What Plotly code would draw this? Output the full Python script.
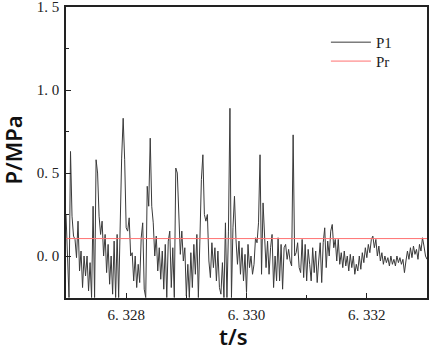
import plotly.graph_objects as go

# sampling of the P1 signal
t_start = 6.327
t_step = 0.000025

p1_values = [
    0.25, -0.05, -0.25, 0.63, 0.24, 0.12, 0.10, -0.01, 0.21, -0.09,
    0.03, -0.19, 0.00, -0.12, 0.00, -0.21, -0.04, -0.25, 0.30, -0.25,
    0.58, 0.50, 0.24, 0.13, 0.21, 0.00, 0.13, -0.10, 0.07, -0.17,
    0.00, -0.23, 0.09, -0.25, 0.13, -0.25, 0.28, 0.59, 0.83, 0.58,
    0.17, 0.15, 0.23, 0.00, 0.02, -0.15, 0.00, -0.19, -0.05, -0.16,
    0.11, 0.20, -0.20, -0.25, 0.42, 0.30, 0.71, 0.30, 0.20, 0.00,
    0.12, -0.09, 0.05, -0.14, 0.03, -0.20, 0.07, -0.25, 0.09, 0.15,
    -0.19, 0.05, -0.25, 0.53, 0.50, 0.30, 0.01, 0.15, -0.03, 0.05,
    -0.24, -0.05, -0.25, 0.02, -0.19, 0.07, -0.11, 0.13, -0.25, 0.09,
    0.46, 0.61, 0.25, 0.21, 0.25, -0.03, -0.13, 0.08, -0.07, 0.05,
    -0.15, 0.03, -0.19, -0.23, -0.04, -0.25, 0.20, -0.25, 0.15, 0.89,
    -0.25, 0.17, 0.36, 0.10, -0.05, 0.09, -0.11, 0.05, -0.15, 0.01,
    -0.22, 0.07, -0.07, 0.00, -0.11, -0.05, 0.11, 0.08, 0.20, 0.61,
    -0.11, 0.32, 0.07, -0.07, 0.09, -0.11, 0.05, 0.13, -0.19, 0.00,
    -0.15, 0.11, -0.15, 0.07, -0.20, 0.05, 0.07, -0.02, 0.04, -0.03,
    -0.06, 0.73, 0.00, 0.02, 0.08, -0.07, -0.10, 0.10, -0.13, 0.07,
    -0.15, 0.04, -0.05, -0.15, 0.05, -0.10, 0.03, -0.16, -0.03, 0.08,
    -0.16, 0.08, 0.17, -0.07, 0.09, 0.00, 0.15, 0.19, 0.05, 0.10,
    -0.03, 0.10, -0.05, 0.02, -0.07, 0.03, -0.06, 0.00, -0.09, 0.01,
    -0.07, 0.00, -0.11, -0.05, -0.09, 0.00, -0.08, 0.02, -0.04, 0.05,
    -0.01, 0.07, 0.02, 0.10, 0.12, 0.05, 0.10, 0.00, 0.06, -0.03,
    0.02, -0.05, 0.00, -0.04, -0.01, -0.06, 0.00, -0.05, -0.02, -0.06,
    0.00, -0.04, -0.01, -0.05, -0.02, -0.10, -0.03, 0.03, -0.02, 0.05,
    -0.01, 0.06, 0.01, 0.04, -0.02, 0.07, 0.03, 0.11, 0.06, 0.00,
    -0.02,
]
p1_times = [t_start + k * t_step for k in range(len(p1_values))]

pr_value = 0.105
pr_times = [6.327, 6.333]

x_range = [6.327, 6.333]
y_range = [-0.253, 1.5005]
x_tickvals = [6.328, 6.330, 6.332]
x_ticktext = ["6. 328", "6. 330", "6. 332"]
y_tickvals = [0.0, 0.5, 1.0, 1.5]
y_ticktext = ["0. 0", "0. 5", "1. 0", "1. 5"]
x_title = "t/s"
y_title = "P/MPa"

serif = "Liberation Serif, DejaVu Serif, serif"
sans = "Noto Sans, Open Sans, sans-serif"

fig = go.Figure()
fig.add_trace(go.Scatter(
    x=p1_times, y=p1_values, mode="lines", name="P1",
    line=dict(color="#3a3a3a", width=1), legend="legend",
))
fig.add_trace(go.Scatter(
    x=pr_times, y=[pr_value, pr_value], mode="lines", name="Pr",
    line=dict(color="#ff7070", width=1), legend="legend2",
))

axis_common = dict(
    showline=True, linecolor="#222", linewidth=1.5, mirror=True,
    showgrid=False, zeroline=False, ticks="inside", ticklen=5,
    tickwidth=1.2, tickcolor="#222", automargin=False,
    ticklabeloverflow="allow",
    tickfont=dict(family=serif, size=15, color="#222"),
)

fig.update_xaxes(
    range=x_range, tickmode="array", tickvals=x_tickvals, ticktext=x_ticktext,
    minor=dict(ticks="inside", ticklen=3, dtick=0.001, tickcolor="#222", tickwidth=1.2),
    ticklabelstandoff=2,
    **axis_common,
)
fig.update_yaxes(
    range=y_range, tickmode="array", tickvals=y_tickvals, ticktext=y_ticktext,
    minor=dict(ticks="inside", ticklen=3, tickvals=[-0.25, 0.25, 0.75, 1.25], tickcolor="#222", tickwidth=1.2),
    ticklabelstandoff=2,
    **axis_common,
)

title_font = dict(family=sans, size=22, color="#111", weight=600)
fig.add_annotation(text=x_title, xref="paper", yref="paper", x=0.465, y=-0.13,
                   xanchor="center", yanchor="middle", showarrow=False, font=title_font)
fig.add_annotation(text=y_title, xref="paper", yref="paper", x=-0.147, y=0.51,
                   xanchor="center", yanchor="middle", showarrow=False, textangle=-90,
                   font=title_font)

legend_common = dict(
    xanchor="left", yanchor="top", bgcolor="rgba(0,0,0,0)", borderwidth=0,
    font=dict(family=serif, size=15, color="#222"), itemwidth=40,
)

fig.update_layout(
    width=429, height=346,
    margin=dict(l=66, r=2, t=7, b=48),
    paper_bgcolor="white", plot_bgcolor="white",
    showlegend=True,
    legend=dict(x=0.72, y=0.935, **legend_common),
    legend2=dict(x=0.72, y=0.87, **legend_common),
)

fig.write_html("out.html", config={"displayModeBar": False},
               post_script="document.body.style.margin='0';")
